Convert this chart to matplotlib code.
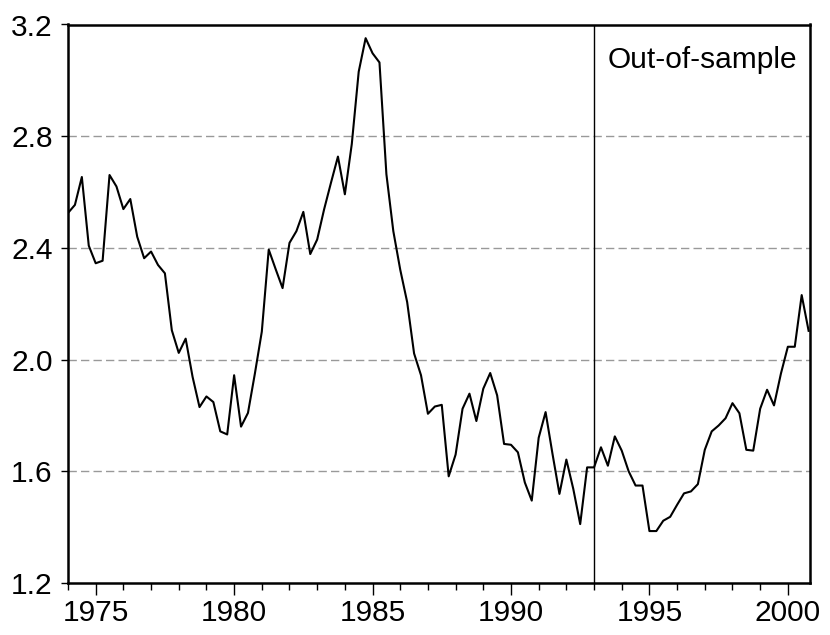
import matplotlib
matplotlib.use("Agg")
import matplotlib.pyplot as plt
import numpy as np
from matplotlib.ticker import MultipleLocator, FixedLocator

start_year = 1974.0
values = [
    2.525, 2.554, 2.654, 2.408, 2.345, 2.354, 2.661, 2.620,   # 1974-1975
    2.539, 2.575, 2.440, 2.363, 2.387, 2.339, 2.309, 2.105,   # 1976-1977
    2.024, 2.075, 1.938, 1.830, 1.868, 1.848, 1.743, 1.732,   # 1978-1979
    1.944, 1.760, 1.809, 1.950, 2.100, 2.394, 2.324, 2.256,   # 1980-1981
    2.418, 2.460, 2.529, 2.378, 2.430, 2.538, 2.634, 2.727,   # 1982-1983
    2.592, 2.772, 3.031, 3.151, 3.097, 3.064, 2.664, 2.460,   # 1984-1985
    2.322, 2.206, 2.022, 1.944, 1.806, 1.832, 1.838, 1.582,   # 1986-1987
    1.660, 1.824, 1.878, 1.780, 1.896, 1.952, 1.872, 1.698,   # 1988-1989
    1.695, 1.668, 1.560, 1.495, 1.720, 1.812, 1.662, 1.519,   # 1990-1991
    1.642, 1.537, 1.411, 1.614, 1.614, 1.686, 1.620, 1.725,   # 1992-1993
    1.674, 1.600, 1.549, 1.549, 1.386, 1.386, 1.423, 1.437,   # 1994-1995
    1.480, 1.521, 1.528, 1.554, 1.677, 1.743, 1.764, 1.790,   # 1996-1997
    1.844, 1.808, 1.677, 1.674, 1.824, 1.892, 1.836, 1.950,   # 1998-1999
    2.046, 2.046, 2.231, 2.103,                               # 2000
]
dates = start_year + np.arange(len(values)) / 4.0
split_year = 1993.0
label_text = "Out-of-sample"
y_ticks = [1.2, 1.6, 2.0, 2.4, 2.8, 3.2]
y_tick_labels = ["1.2", "1.6", "2.0", "2.4", "2.8", "3.2"]
x_major = [1975, 1980, 1985, 1990, 1995, 2000]

plt.rcParams['font.family'] = ['Liberation Sans', 'DejaVu Sans']

fig = plt.figure(figsize=(8.3, 6.35), dpi=100)
ax = fig.add_axes([68/830, 52/635, 742/830, 558.5/635])

for g in [1.6, 2.0, 2.4, 2.8]:
    ax.axhline(g, color='#999999', lw=1.0, ls=(0, (6, 3)), zorder=1)

ax.plot(dates, values, color='black', lw=1.5, zorder=3)
ax.axvline(split_year, color='black', lw=1.0, zorder=2)

ax.set_xlim(1974.0, 2000.8)
ax.set_ylim(1.2, 3.2)
ax.set_yticks(y_ticks)
ax.set_yticklabels(y_tick_labels)
ax.xaxis.set_major_locator(FixedLocator(x_major))
ax.xaxis.set_minor_locator(MultipleLocator(1))
ax.set_xticklabels([str(x) for x in x_major])

for s in ax.spines.values():
    s.set_linewidth(1.8)

ax.tick_params(axis='y', direction='out', length=5, width=1, labelsize=21.5, pad=6)
ax.tick_params(axis='x', which='major', direction='out', length=8.5, width=1, labelsize=21.5, pad=3)
ax.tick_params(axis='x', which='minor', direction='out', length=5, width=1)

ax.text(split_year + 0.5, 0.962, label_text, transform=ax.get_xaxis_transform(),
        ha='left', va='top', fontsize=21.5)

fig.savefig("out.png", dpi=100)
